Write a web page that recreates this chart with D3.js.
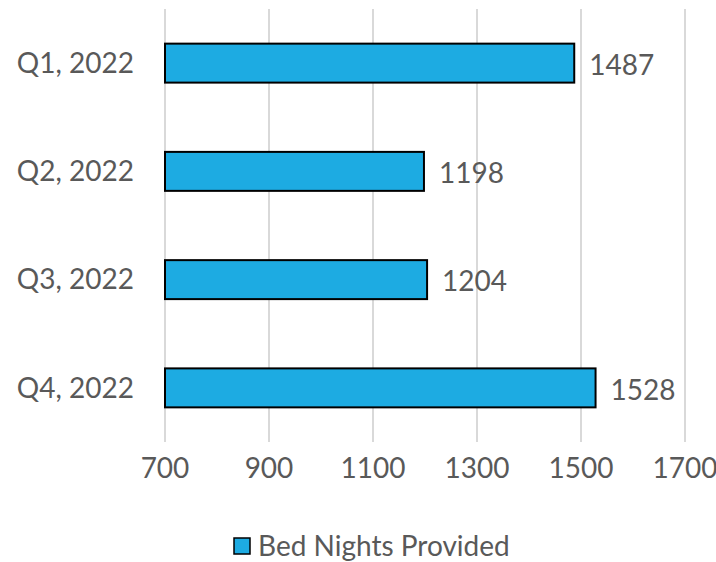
<!DOCTYPE html>
<html>
<head>
<meta charset="utf-8">
<script src="https://cdn.jsdelivr.net/npm/d3@7"></script>
<style>
  body { margin: 0; background: #fff; }
  text { font-family: Lato, "Open Sans", sans-serif; fill: #595959; }
</style>
</head>
<body>
<div id="chart"></div>
<script>
// chart data
const quarters = ["Q1, 2022", "Q2, 2022", "Q3, 2022", "Q4, 2022"];
const bedNights = [1487, 1198, 1204, 1528];
const xTicks = [700, 900, 1100, 1300, 1500, 1700];
const seriesName = "Bed Nights Provided";

const w = 716;
const h = 562;
const margin = {top: 9, right: 31, bottom: 120, left: 165};
const fs = "28px";

const svg = d3.select("#chart")
    .append("svg")
    .attr("width", w)
    .attr("height", h);

const x = d3.scaleLinear()
    .domain([700, 1700])
    .range([margin.left, w - margin.right]);

const y = d3.scaleBand()
    .domain(quarters)
    .range([margin.top, h - margin.bottom])
    .paddingInner(0.64)
    .paddingOuter(0.32);

// gridlines
svg.selectAll("line.grid")
    .data(xTicks)
    .enter()
    .append("line")
    .attr("class", "grid")
    .attr("x1", (d) => x(d))
    .attr("x2", (d) => x(d))
    .attr("y1", margin.top)
    .attr("y2", h - margin.bottom)
    .style("stroke", "#d9d9d9")
    .style("stroke-width", 2);

// x tick labels
svg.selectAll("text.xtick")
    .data(xTicks)
    .enter()
    .append("text")
    .attr("class", "xtick")
    .attr("x", (d) => x(d))
    .attr("y", 478)
    .attr("text-anchor", "middle")
    .style("font-size", fs)
    .text((d) => d);

// y category labels
svg.selectAll("text.ytick")
    .data(quarters)
    .enter()
    .append("text")
    .attr("class", "ytick")
    .attr("x", 134)
    .attr("y", (d) => y(d) + y.bandwidth() / 2)
    .attr("dy", "0.35em")
    .attr("text-anchor", "end")
    .style("font-size", fs)
    .text((d) => d);

const rows = quarters.map((q, i) => ({q, v: bedNights[i]}));

// bars
svg.selectAll("rect.bar")
    .data(rows)
    .enter()
    .append("rect")
    .attr("class", "bar")
    .attr("x", x(700))
    .attr("y", (d) => y(d.q))
    .attr("width", (d) => x(d.v) - x(700))
    .attr("height", y.bandwidth())
    .style("fill", "#1dabe2")
    .style("stroke", "#000")
    .style("stroke-width", 2);

// value labels
svg.selectAll("text.val")
    .data(rows)
    .enter()
    .append("text")
    .attr("class", "val")
    .attr("x", (d) => x(d.v) + 15)
    .attr("y", (d) => y(d.q) + y.bandwidth() / 2 + 2)
    .attr("dy", "0.35em")
    .style("font-size", fs)
    .text((d) => d.v);

// legend
const legend = svg.append("g").attr("transform", "translate(234,538)");
legend.append("rect")
    .attr("width", 16)
    .attr("height", 16)
    .style("fill", "#1dabe2")
    .style("stroke", "#000")
    .style("stroke-width", 1.5);
legend.append("text")
    .attr("x", 24)
    .attr("y", 8)
    .attr("dy", "0.35em")
    .style("font-size", fs)
    .text(seriesName);
</script>
</body>
</html>
